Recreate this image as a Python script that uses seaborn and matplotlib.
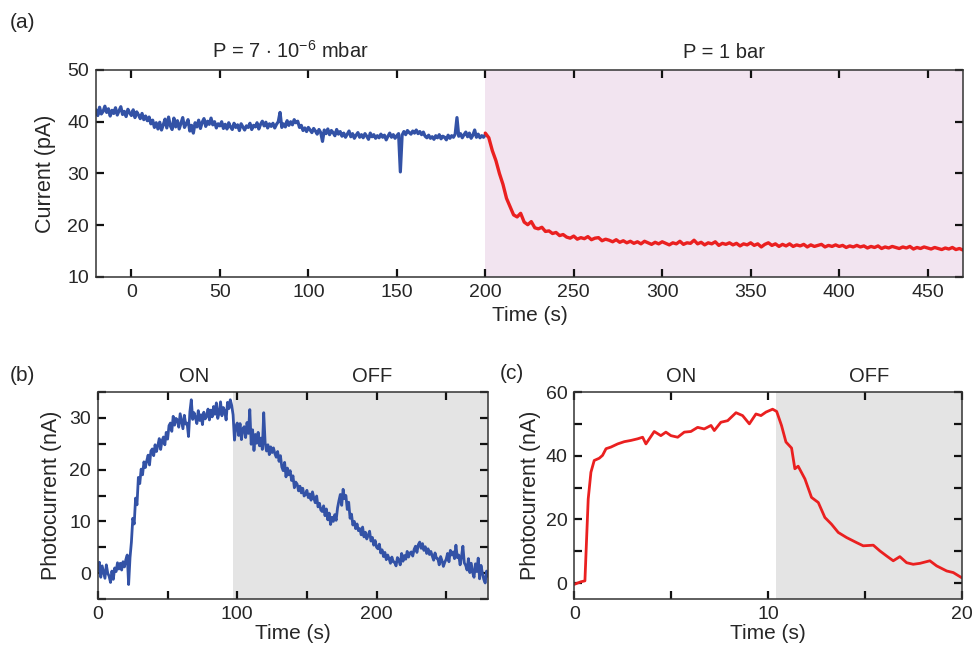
import numpy as np
import pandas as pd
import seaborn as sns
import matplotlib
matplotlib.use("Agg")
from matplotlib import pyplot as plt
from matplotlib.ticker import MultipleLocator

# ---- panel (a): vacuum (blue, 1 s steps) then 1 bar (red, 2 s steps) ----
a_vac_t0, a_vac_dt = -20, 1
a_vac_current = [
    42.3, 41.2, 42.8, 41.5, 42.0, 43.0, 41.8, 42.5, 41.1, 42.2,
    41.6, 42.7, 41.3, 42.1, 42.9, 41.4, 42.0, 41.0, 42.4, 41.7,
    41.2, 42.3, 40.8, 41.9, 41.3, 40.6, 41.6, 40.4, 41.1, 40.2,
    40.9, 39.6, 40.3, 38.9, 39.8, 38.6, 39.9, 38.4, 39.4, 40.5,
    38.8, 40.9, 39.2, 38.5, 40.7, 39.0, 40.2, 38.6, 39.7, 40.8,
    38.9, 39.6, 40.4, 38.2, 39.3, 37.8, 39.8, 39.0, 40.3, 38.7,
    39.9, 40.6, 39.1, 40.1, 39.5, 40.7, 39.4, 40.0, 38.8, 39.6,
    39.2, 40.0, 38.7, 39.5, 38.6, 39.8, 39.0, 38.5, 39.7, 38.9,
    39.4, 38.3, 39.6, 39.0, 38.4, 39.2, 38.9, 39.7, 38.5, 39.3,
    39.0, 39.8, 38.6, 39.5, 40.1, 39.2, 39.9, 38.8, 39.6, 39.1,
    39.7, 38.8, 39.5, 40.0, 41.8, 38.9, 39.6, 39.0, 40.2, 39.3,
    40.0, 39.4, 40.4, 39.8, 40.1, 38.9, 39.3, 38.3, 38.8, 38.1,
    38.9, 38.4, 37.9, 38.7, 38.2, 37.6, 38.5, 37.9, 36.2, 38.4,
    37.7, 38.6, 37.5, 38.3, 37.9, 37.3, 38.5, 37.6, 38.1, 37.2,
    37.8, 37.0, 37.6, 38.2, 37.1, 37.7, 36.8, 37.4, 37.9, 37.0,
    37.5, 36.9, 37.7, 37.2, 36.6, 37.8, 37.1, 37.5, 36.8, 37.3,
    36.9, 37.6, 37.0, 37.4, 36.5, 37.2, 37.8, 37.0, 37.5, 36.8,
    37.3, 37.7, 30.3, 37.4, 38.1, 37.5, 38.3, 37.9, 37.6, 38.2,
    37.8, 38.4, 37.7, 38.1, 37.5, 38.0, 37.2, 36.9, 37.4, 36.8,
    37.1, 36.6, 37.3, 36.9, 37.5, 36.7, 37.2, 37.0, 36.5, 37.4,
    36.8, 37.3, 37.0, 37.6, 40.8, 37.2, 37.7, 36.9, 37.5, 38.0,
    37.1, 37.8, 36.8, 37.4, 38.4, 37.0, 37.6, 36.9, 37.3, 37.0,
    37.5,
]
a_air_t0, a_air_dt = 200, 2
a_air_current = [
    37.8, 36.9, 34.4, 32.5, 30.0, 27.9, 25.2, 23.6, 22.0, 21.6,
    22.3, 20.6, 20.1, 20.7, 19.5, 19.3, 19.6, 18.8, 18.9, 18.4,
    18.6, 18.0, 18.2, 17.7, 17.5, 17.9, 17.3, 17.6, 17.4, 17.8,
    17.2, 17.5, 17.6, 17.0, 17.3, 17.1, 16.8, 17.2, 16.7, 17.0,
    16.6, 16.9, 16.5, 16.8, 16.4, 16.9, 16.6, 16.3, 16.7, 16.4,
    16.8, 16.5, 16.2, 16.6, 16.4, 16.9, 16.3, 16.6, 16.5, 17.1,
    16.4, 16.7, 16.2, 16.6, 16.4, 16.8, 16.1, 16.5, 16.3, 16.6,
    16.2, 16.5, 16.0, 16.4, 16.2, 16.6, 16.1, 16.4, 15.8, 16.3,
    16.6, 16.1, 16.4, 15.9, 16.3, 16.0, 16.4, 15.9, 16.2, 16.0,
    16.3, 15.8, 16.2, 15.9, 16.1, 16.3, 15.8, 16.1, 15.9, 16.2,
    15.9, 16.1, 15.7, 16.0, 15.8, 16.1, 15.8, 16.0, 15.6, 15.9,
    15.7, 16.0, 15.5, 15.8, 15.6, 15.9, 15.7, 15.5, 15.8, 15.6,
    15.9, 15.4, 15.7, 15.5, 15.8, 15.6, 15.4, 15.7, 15.5, 15.3,
    15.6, 15.4, 15.7, 15.3, 15.5, 15.2,
]

# ---- panel (b): 1 s steps ----
b_t0, b_dt = 0, 1
b_photocurrent = [
    0.5, 2.1, -0.8, 1.4, 0.2, -1.0, 1.6, 0.0, -0.6, -1.8,
    0.4, -1.2, 1.0, 0.3, 2.0, 0.8, 1.9, 0.6, 2.2, 1.2,
    2.6, 3.5, -2.2, 3.0, 6.0, 10.6, 9.5, 14.5, 13.2, 18.5,
    17.3, 20.1, 19.0, 21.5, 20.4, 21.7, 22.8, 20.9, 23.6, 24.0,
    22.7, 24.8, 23.5, 24.7, 26.0, 23.9, 25.6, 26.3, 24.8, 27.2,
    25.9, 28.5, 29.0, 27.4, 30.3, 28.6, 29.9, 29.6, 28.2, 30.8,
    29.4, 27.9, 30.5, 28.8, 29.0, 26.4, 31.2, 33.5, 29.7, 31.0,
    30.0, 28.9, 31.4, 29.5, 30.6, 28.7, 31.1, 29.8, 30.3, 31.7,
    29.6, 31.5, 30.2, 32.2, 30.7, 32.9, 29.9, 31.0, 33.1, 30.4,
    32.0, 31.3, 29.6, 33.0, 31.8, 33.5, 32.4, 30.6, 25.7, 28.4,
    29.0, 26.6, 28.9, 25.8, 27.9, 28.3, 26.2, 29.1, 27.0, 31.6,
    24.9, 27.7, 23.7, 26.8, 25.1, 27.2, 24.6, 26.1, 23.9, 31.0,
    25.2, 23.6, 24.8, 22.9, 24.4, 23.3, 24.2, 23.1, 22.4, 23.5,
    21.6, 22.7, 20.5, 19.8, 21.4, 18.6, 20.3, 19.0, 19.8, 17.9,
    18.8, 16.5, 17.6, 17.2, 15.9, 16.8, 15.5, 16.4, 14.9, 15.2,
    16.0, 14.6, 15.3, 14.1, 15.7, 14.5, 13.6, 14.9, 12.8, 13.5,
    12.2, 11.9, 13.0, 11.1, 12.4, 10.3, 11.6, 9.4, 10.8, 10.0,
    11.3, 10.2, 12.6, 14.0, 15.2, 13.1, 16.2, 14.4, 15.0, 12.3,
    13.7, 10.6, 11.4, 9.3, 10.0, 8.6, 9.5, 8.2, 8.6, 7.4,
    8.9, 7.0, 7.9, 6.6, 7.3, 8.1, 6.2, 6.9, 5.4, 6.3,
    5.0, 4.7, 5.6, 3.9, 4.5, 3.2, 4.0, 2.6, 3.5, 2.8,
    1.9, 3.1, 2.2, 2.1, 1.4, 3.0, 2.5, 1.6, 3.8, 2.3,
    3.4, 2.7, 4.2, 3.1, 3.9, 4.1, 3.3, 4.6, 5.2, 4.0,
    5.5, 6.0, 4.8, 5.7, 4.4, 5.1, 3.8, 4.7, 3.6, 4.2,
    3.3, 2.5, 3.9, 2.9, 2.8, 1.6, 3.2, 2.4, 1.3, 2.1,
    2.7, 3.8, 2.2, 4.4, 3.5, 4.1, 2.8, 5.4, 3.0, 3.5,
    1.6, 3.2, 5.2, 2.0, 1.5, 0.6, 2.8, 0.1, 1.9, 0.1,
    -0.8, 1.8, 0.3, 2.9, -1.1, 1.5, 0.0, -1.2, -1.9, 0.4,
    -0.6,
]

# ---- panel (c) ----
c_time = [0.0, 0.34, 0.55, 0.65, 0.72, 0.86, 1.03, 1.29, 1.46, 1.64, 1.89,
          2.24, 2.58, 2.93, 3.27, 3.53, 3.70, 4.13, 4.47, 4.73, 4.99, 5.34,
          5.68, 6.02, 6.37, 6.71, 7.06, 7.23, 7.57, 7.92, 8.35, 8.69, 9.04,
          9.38, 9.64, 9.90, 10.24, 10.45, 10.70, 10.93, 11.22, 11.39, 11.56,
          11.91, 12.25, 12.60, 12.94, 13.28, 13.63, 14.06, 14.58, 14.92,
          15.44, 15.78, 16.13, 16.47, 16.81, 17.16, 17.50, 17.85, 18.36,
          18.71, 19.23, 19.57, 20.0]
c_photocurrent = [-0.4, 0.4, 0.7, 15.9, 26.4, 34.8, 38.5, 39.2, 40.1, 42.2,
                  42.7, 43.7, 44.4, 44.8, 45.3, 45.8, 43.7, 47.6, 46.3, 47.4,
                  46.3, 45.8, 47.4, 47.6, 48.9, 48.4, 49.5, 47.9, 50.5, 51.0,
                  53.5, 52.6, 50.0, 53.1, 52.6, 53.7, 54.6, 53.9, 49.5, 44.3,
                  42.4, 35.9, 36.7, 32.7, 26.9, 25.3, 20.6, 18.5, 15.9, 14.3,
                  12.7, 11.7, 11.9, 10.1, 8.5, 7.0, 8.3, 6.4, 5.9, 6.2, 7.0,
                  5.4, 3.8, 3.3, 1.7]

BLUE = "#3352a6"
RED = "#ea2020"
PINK = "#f2e4f0"
GRAY = "#e4e4e4"
SPINE = "#333333"

sns.set_style("white")
plt.rcParams["font.family"] = ["Liberation Sans", "DejaVu Sans"]
plt.rcParams["mathtext.fontset"] = "custom"
plt.rcParams["mathtext.rm"] = "Liberation Sans"
plt.rcParams["mathtext.it"] = "Liberation Sans:italic"

fig = plt.figure(figsize=(9.73, 6.54), dpi=100)
ax_a = fig.add_axes([0.0987, 0.5765, 0.891, 0.3165])
ax_b = fig.add_axes([0.1007, 0.0841, 0.4008, 0.3165])
ax_c = fig.add_axes([0.5902, 0.0841, 0.3981, 0.3165])


def series(t0, dt, vals):
    return pd.DataFrame({"t": t0 + dt * np.arange(len(vals)), "y": vals})


def style_axes(ax):
    for s in ax.spines.values():
        s.set_color(SPINE)
        s.set_linewidth(1.1)
    ax.tick_params(which="both", direction="in", length=6, width=1.6,
                   color="#111111", top=True, right=True, bottom=True,
                   left=True, labelsize=14, pad=5)


# (a)
ax_a.axvspan(200, 470, color=PINK, zorder=0, lw=0)
sns.lineplot(data=series(a_vac_t0, a_vac_dt, a_vac_current), x="t", y="y",
             ax=ax_a, color=BLUE, lw=2.3, sort=False)
sns.lineplot(data=series(a_air_t0, a_air_dt, a_air_current), x="t", y="y",
             ax=ax_a, color=RED, lw=2.4, sort=False)
ax_a.set_xlim(-20, 470)
ax_a.set_ylim(10, 50)
ax_a.xaxis.set_major_locator(MultipleLocator(50))
ax_a.yaxis.set_major_locator(MultipleLocator(10))
ax_a.set_xlabel("Time (s)", fontsize=15, labelpad=4)
ax_a.set_ylabel("Current (pA)", fontsize=15.5, labelpad=8)
ax_a.text(90, 51.5, "P = 7 $\\cdot$ 10$^{\\mathregular{-6}}$ mbar",
          ha="center", va="bottom", fontsize=14.5)
ax_a.text(335, 51.5, "P = 1 bar", ha="center", va="bottom", fontsize=14.5)
style_axes(ax_a)

# (b)
ax_b.axvspan(97, 280, color=GRAY, zorder=0, lw=0)
sns.lineplot(data=series(b_t0, b_dt, b_photocurrent), x="t", y="y",
             ax=ax_b, color=BLUE, lw=2.0, sort=False)
ax_b.set_xlim(0, 280)
ax_b.set_ylim(-5, 35)
ax_b.xaxis.set_major_locator(MultipleLocator(100))
ax_b.xaxis.set_minor_locator(MultipleLocator(50))
ax_b.yaxis.set_major_locator(MultipleLocator(10))
ax_b.yaxis.set_minor_locator(MultipleLocator(5))
ax_b.set_xlabel("Time (s)", fontsize=15, labelpad=1)
ax_b.set_ylabel("Photocurrent (nA)", fontsize=15.5, labelpad=5)
ax_b.text(69, 36.2, "ON", ha="center", va="bottom", fontsize=14.5)
ax_b.text(197, 36.2, "OFF", ha="center", va="bottom", fontsize=14.5)
style_axes(ax_b)

# (c)
ax_c.axvspan(10.4, 20, color=GRAY, zorder=0, lw=0)
sns.lineplot(x=c_time, y=c_photocurrent, ax=ax_c, color=RED, lw=2.0,
             sort=False)
ax_c.set_xlim(0, 20)
ax_c.set_ylim(-5, 60)
ax_c.xaxis.set_major_locator(MultipleLocator(10))
ax_c.xaxis.set_minor_locator(MultipleLocator(5))
ax_c.yaxis.set_major_locator(MultipleLocator(20))
ax_c.yaxis.set_minor_locator(MultipleLocator(10))
ax_c.set_xlabel("Time (s)", fontsize=15, labelpad=1)
ax_c.set_ylabel("Photocurrent (nA)", fontsize=15.5, labelpad=3)
ax_c.text(5.5, 62, "ON", ha="center", va="bottom", fontsize=14.5)
ax_c.text(15.2, 62, "OFF", ha="center", va="bottom", fontsize=14.5)
style_axes(ax_c)

fig.text(0.010, 0.966, "(a)", fontsize=15, ha="left", va="center")
fig.text(0.010, 0.426, "(b)", fontsize=15, ha="left", va="center")
fig.text(0.514, 0.429, "(c)", fontsize=15, ha="left", va="center")

fig.savefig("out.png", dpi=100)
